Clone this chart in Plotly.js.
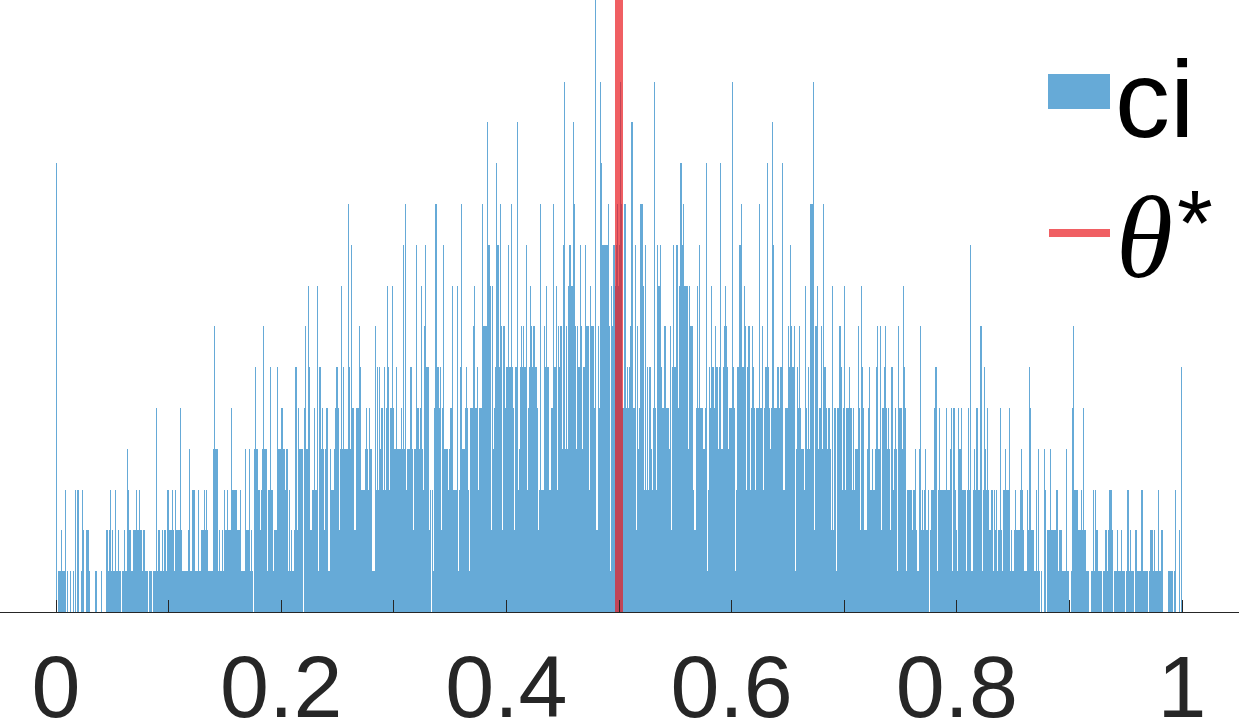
<!DOCTYPE html>
<html>
<head>
<meta charset="utf-8">
<script src="https://cdn.plot.ly/plotly-3.0.1.min.js"></script>
<style>html,body{margin:0;padding:0;background:#fff}#chart{width:1239px;height:722px}</style>
</head>
<body>
<div id="chart"></div>
<script>
// Histogram of ci: 1000 bins of width 0.001 on [0, 1]
const binStart = 0;
const binWidth = 0.001;
const counts = [
11,0,1,1,2,1,1,1,3,0, 1,0,1,0,0,1,0,3,0,3, 0,0,1,3,2,0,0,2,2,1, 0,0,0,0,0,1,0,0,0,0, 1,0,0,0,2,2,1,2,3,1,
2,1,3,1,1,2,1,1,0,1, 2,1,1,4,3,2,2,1,2,2, 2,3,2,2,3,2,1,2,2,1, 1,1,0,1,1,0,1,1,1,5, 1,2,1,1,2,1,2,2,1,3,
2,2,2,3,2,1,3,2,2,2, 5,2,1,1,1,1,1,2,4,1, 1,3,3,1,1,1,3,1,1,2, 2,3,2,3,2,1,1,1,1,4, 7,4,4,4,1,2,1,2,1,3,
2,2,3,2,2,5,3,3,3,3, 3,2,2,3,1,1,1,1,4,2, 2,4,1,2,1,0,4,6,4,3, 3,2,3,4,7,4,4,1,3,3, 6,3,3,1,2,2,6,4,4,4,
5,5,4,3,4,4,1,3,1,2, 1,2,6,6,2,5,4,4,4,0, 5,7,4,4,8,6,2,3,3,5, 3,3,8,1,6,4,5,4,2,4, 5,5,1,4,3,3,3,4,5,6,
5,2,4,8,4,6,4,4,4,10, 6,4,9,5,5,2,5,5,5,7, 6,3,3,3,4,5,4,3,5,4, 4,1,1,7,3,6,3,6,4,5, 3,6,3,5,8,6,3,5,8,5,
4,4,6,4,4,4,5,4,9,4, 10,3,4,4,6,6,4,2,4,4, 9,5,4,5,8,4,3,7,9,6, 6,2,3,0,3,1,5,10,6,6, 5,6,2,5,9,4,4,4,3,4,
5,5,8,3,3,3,8,1,3,6, 10,4,4,5,6,5,3,1,5,5, 7,8,5,5,6,3,5,5,10,7, 7,7,7,12,9,8,2,8,4,5, 6,11,9,6,10,7,2,7,7,5,
6,9,6,6,10,6,5,2,6,12, 3,4,6,7,6,7,6,9,3,5, 6,8,7,6,7,6,6,5,2,3, 10,3,3,7,6,8,6,6,3,3, 5,10,6,6,8,3,7,6,7,4,
9,13,4,7,4,8,9,8,8,12, 10,7,4,7,6,9,7,4,6,6, 9,7,7,3,8,7,7,7,5,15, 2,7,5,13,11,9,9,9,9,9, 10,7,1,8,7,9,8,9,10,8,
9,13,10,5,10,10,5,6,5,6, 7,12,5,5,9,2,7,4,5,10, 10,8,3,9,3,6,3,6,4,3, 5,13,5,3,9,8,9,6,5,5, 7,7,5,5,4,7,2,6,9,6,
6,9,5,8,11,11,9,10,8,8, 8,4,8,7,7,7,3,2,5,8, 5,9,5,5,5,4,5,11,1,3, 6,5,8,6,5,7,6,6,4,6, 11,4,6,7,8,7,6,4,5,5,
13,6,5,1,3,6,6,9,10,6, 6,8,7,3,6,7,3,5,7,6, 5,3,5,5,10,5,5,7,3,5, 6,11,6,5,4,5,12,9,5,5, 6,6,5,6,6,11,3,5,5,5,
7,6,9,7,6,7,1,4,6,5, 7,5,4,4,3,8,5,4,6,4, 10,10,13,2,7,7,8,4,5,7, 4,10,6,6,5,4,5,4,2,8, 2,5,5,1,5,7,7,6,3,5,
8,3,5,5,6,5,5,3,5,3, 4,4,7,5,2,8,6,5,2,2, 4,5,6,3,3,4,3,4,6,7, 4,4,7,2,5,6,7,5,4,5, 4,2,6,3,4,5,4,1,7,5,
5,4,8,6,5,1,3,3,3,3, 2,3,3,4,2,1,4,7,2,3, 2,3,4,2,3,0,2,3,3,3, 5,6,1,3,5,3,3,3,3,3, 5,3,3,3,4,5,1,5,3,2,
1,5,4,4,5,3,3,3,1,3, 5,3,9,1,3,4,3,5,5,3, 3,7,1,3,6,4,3,5,3,2, 3,3,1,3,2,3,1,2,5,2, 1,3,3,4,3,3,5,1,2,1,
1,2,3,2,2,2,3,4,3,2, 1,1,3,2,6,5,2,2,2,1, 3,1,4,1,0,1,0,4,3,0, 2,2,2,4,2,2,2,2,3,3, 1,2,2,1,1,1,1,4,1,1,
0,1,5,7,3,3,3,3,2,2, 3,2,5,2,2,1,1,0,0,1, 1,3,1,3,2,1,1,1,1,0, 1,1,2,1,2,3,3,3,2,0, 1,1,2,1,1,1,2,1,1,0,
1,3,3,1,2,1,1,0,2,2, 1,1,1,1,3,1,1,1,1,1, 0,1,2,2,1,2,1,1,1,3, 1,2,2,0,0,0,0,0,1,1, 1,1,0,1,3,0,0,2,0,6
];
const thetaStar = 0.5;
const yMax = 15;
const tickVals = [0, 0.1, 0.2, 0.3, 0.4, 0.5, 0.6, 0.7, 0.8, 0.9, 1];
const tickText = ['0', '', '0.2', '', '0.4', '', '0.6', '', '0.8', '', '1'];
const legendLabels = ['ci', 'θ', '*'];

const binCenters = counts.map((_, i) => binStart + (i + 0.5) * binWidth);

const W = 1239, H = 722, plotBottom = 612;
const px = v => v / W;
const py = v => (plotBottom - v) / plotBottom;

const barColor = '#66AAD7';
const redColor = 'rgba(233,23,29,0.69)';

const traces = [
  {
    type: 'bar', x: binCenters, y: counts, width: binWidth,
    marker: {color: barColor, line: {width: 0}},
    hoverinfo: 'skip', name: legendLabels[0]
  },
  {
    type: 'scatter', mode: 'lines', x: [thetaStar, thetaStar], y: [0, yMax],
    line: {color: redColor, width: 8}, hoverinfo: 'skip', name: 'θ*', cliponaxis: false
  }
];

const layout = {
  width: W, height: H,
  margin: {l: 0, r: 0, t: 0, b: 110, pad: 0},
  paper_bgcolor: '#ffffff', plot_bgcolor: '#ffffff',
  showlegend: false, bargap: 0,
  xaxis: {
    range: [-56 / 1126, (W - 56) / 1126],
    tickvals: tickVals, ticktext: tickText,
    ticks: 'inside', ticklen: 12, tickwidth: 1, tickcolor: '#262626',
    showline: true, linecolor: '#262626', linewidth: 1,
    showgrid: false, zeroline: false, automargin: false,
    ticklabelstandoff: -2,
    tickfont: {family: 'Liberation Sans, Arial, sans-serif', size: 88, color: '#262626'}
  },
  yaxis: {range: [0, yMax], visible: false, showgrid: false, zeroline: false, fixedrange: true},
  shapes: [
    {type: 'rect', xref: 'paper', yref: 'paper', x0: px(1048), x1: px(1110), y0: py(109), y1: py(74),
     fillcolor: barColor, line: {width: 0}},
    {type: 'line', xref: 'paper', yref: 'paper', x0: px(1049), x1: px(1110), y0: py(233), y1: py(233),
     line: {color: redColor, width: 8}}
  ],
  annotations: [
    {xref: 'paper', yref: 'paper', x: px(1113), y: py(99), xanchor: 'left', yanchor: 'middle',
     text: legendLabels[0], showarrow: false,
     font: {family: 'Liberation Sans, Arial, sans-serif', size: 110, color: '#000000'}},
    {xref: 'paper', yref: 'paper', x: px(1114), y: py(238), xanchor: 'left', yanchor: 'middle',
     text: '<i>' + legendLabels[1] + '</i>', showarrow: false,
     font: {family: 'Liberation Serif, Times New Roman, serif', size: 116, color: '#000000'}},
    {xref: 'paper', yref: 'paper', x: px(1175), y: py(223), xanchor: 'left', yanchor: 'middle',
     text: legendLabels[2], showarrow: false,
     font: {family: 'Liberation Sans, Arial, sans-serif', size: 92, color: '#000000'}}
  ]
};

Plotly.newPlot('chart', traces, layout, {staticPlot: true, displayModeBar: false});
</script>
</body>
</html>
